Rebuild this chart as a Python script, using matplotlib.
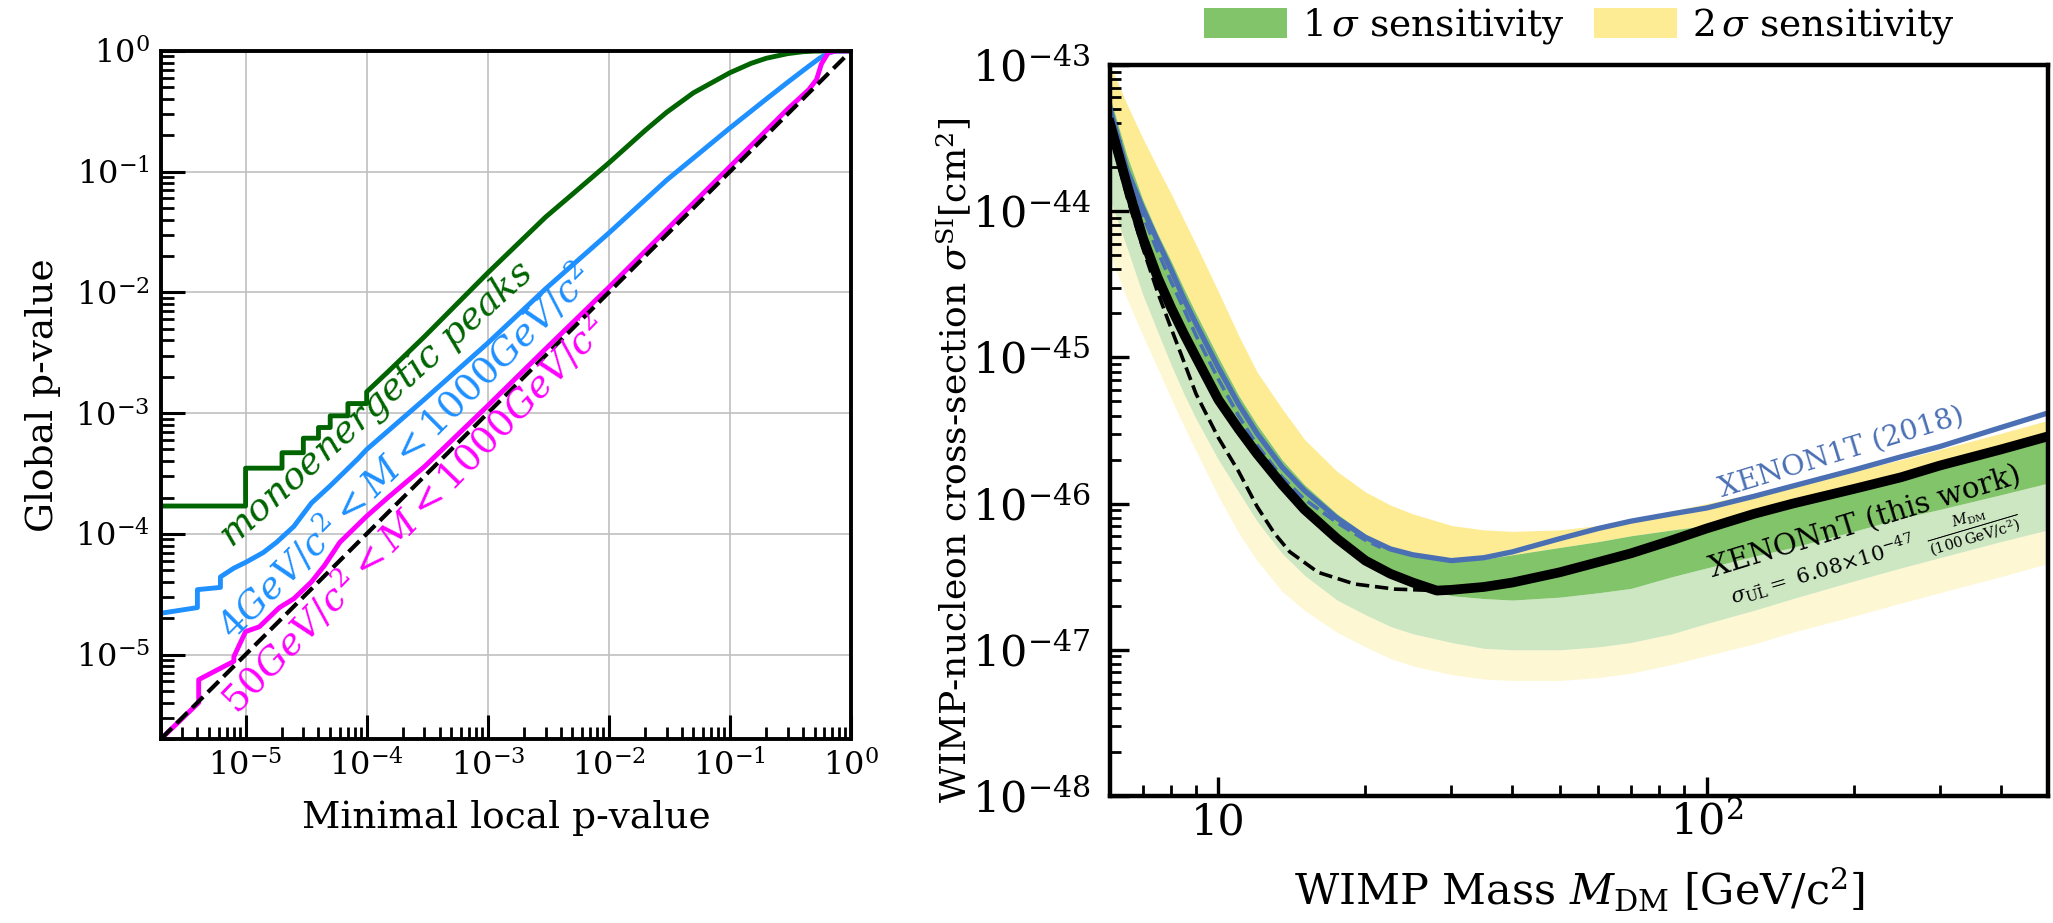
import numpy as np
import matplotlib
matplotlib.use('Agg')
import matplotlib.pyplot as plt
from matplotlib.ticker import LogLocator, NullFormatter, FixedLocator, FixedFormatter
from matplotlib.patches import Patch

plt.rcParams['font.family'] = 'DejaVu Serif'
plt.rcParams['mathtext.fontset'] = 'dejavuserif'

# ---- left panel: global vs local p-value
green_x = [2e-6, 1e-5, 1e-5, 2e-5, 2e-5, 3e-5, 3e-5, 4e-5, 4e-5, 5e-5, 5e-5, 7e-5, 7e-5, 1e-4, 1e-4,
           1.5e-4, 3e-4, 1e-3, 3e-3, 5e-3, 1e-2, 2e-2, 3e-2, 5e-2, 0.1, 0.15, 0.2, 0.3, 0.4, 0.5, 1.0]
green_y = [1.7e-4, 1.7e-4, 3.5e-4, 3.5e-4, 4.7e-4, 4.7e-4, 6.2e-4, 6.2e-4, 7.6e-4, 7.6e-4, 9.5e-4, 9.5e-4,
           1.2e-3, 1.2e-3, 1.5e-3, 2.2e-3, 4.3e-3, 1.45e-2, 4.2e-2, 6.5e-2, 0.118, 0.22, 0.31, 0.45, 0.66,
           0.79, 0.87, 0.95, 0.985, 0.997, 1.0]

blue_x = [2e-6, 4e-6, 4e-6, 6.2e-6, 6.2e-6, 8e-6, 1e-5, 1.4e-5, 1.8e-5, 2.5e-5, 3.5e-5, 5e-5, 8.5e-5,
          1e-4, 3e-4, 1e-3, 3e-3, 1e-2, 3e-2, 0.1, 0.2, 0.3, 0.45, 0.55, 0.65, 0.75, 1.0]
blue_y = [2.2e-5, 2.45e-5, 3.45e-5, 3.6e-5, 4.4e-5, 5.2e-5, 5.8e-5, 7e-5, 8.5e-5, 1.15e-4, 1.8e-4, 2.5e-4,
          4.2e-4, 5e-4, 1.3e-3, 3.8e-3, 1.07e-2, 3.1e-2, 8.5e-2, 0.23, 0.4, 0.55, 0.75, 0.87, 0.96, 1.0, 1.0]

mag_x = [2e-6, 4.1e-6, 4.1e-6, 8e-6, 8e-6, 1e-5, 1.3e-5, 1.9e-5, 2.5e-5, 3.5e-5, 4.5e-5, 6e-5, 1e-4,
         1.5e-4, 3e-4, 1e-3, 3e-3, 1e-2, 3e-2, 0.1, 0.3, 0.45, 0.52, 0.57, 0.65, 0.75, 1.0]
mag_y = [2e-6, 4e-6, 6.2e-6, 8.8e-6, 9.6e-6, 1.55e-5, 1.7e-5, 2.45e-5, 2.9e-5, 4e-5, 5.5e-5, 8.5e-5, 1.4e-4,
         2e-4, 3.6e-4, 1.15e-3, 3.4e-3, 1.1e-2, 3.3e-2, 0.11, 0.33, 0.48, 0.58, 0.78, 0.97, 1.0, 1.0]

p_ticks = [1e-5, 1e-4, 1e-3, 1e-2, 1e-1, 1.0]

# ---- right panel: WIMP limits (cross-sections stored as log10 of cm^2)
mass = [6, 6.5, 7, 7.5, 8, 8.5, 9, 10, 11, 12, 13.5, 15, 17.5, 20, 22.5, 25, 30, 35, 40, 50, 60, 70, 85,
        100, 125, 150, 200, 250, 300, 400, 500]
band_p2_log = [-43.0, -43.27, -43.5, -43.7, -43.88, -44.06, -44.23, -44.55, -44.85, -45.1, -45.35, -45.56,
               -45.78, -45.92, -46.01, -46.07, -46.15, -46.18, -46.19, -46.18, -46.15, -46.11, -46.05, -46.0,
               -45.93, -45.88, -45.78, -45.7, -45.63, -45.52, -45.43]
band_p1_log = [-43.22, -43.62, -43.92, -44.15, -44.34, -44.53, -44.7, -45.0, -45.26, -45.46, -45.7, -45.87,
               -46.07, -46.21, -46.3, -46.35, -46.39, -46.38, -46.35, -46.3, -46.26, -46.22, -46.18, -46.15,
               -46.07, -46.0, -45.89, -45.8, -45.72, -45.61, -45.52]
band_med_log = [-43.4, -43.82, -44.18, -44.45, -44.66, -44.84, -45.0, -45.29, -45.49, -45.66, -45.87, -46.04,
                -46.24, -46.39, -46.49, -46.56, -46.63, -46.65, -46.66, -46.64, -46.61, -46.58, -46.5, -46.44,
                -46.36, -46.3, -46.19, -46.1, -46.04, -45.94, -45.86]
band_m1_log = [-43.92, -44.25, -44.57, -44.82, -45.05, -45.25, -45.42, -45.7, -45.92, -46.12, -46.34, -46.49,
               -46.66, -46.76, -46.84, -46.89, -46.95, -46.99, -47.0, -47.0, -46.98, -46.95, -46.89, -46.82,
               -46.73, -46.65, -46.53, -46.44, -46.37, -46.26, -46.18]
band_m2_log = [-44.3, -44.6, -44.85, -45.07, -45.28, -45.47, -45.64, -45.95, -46.2, -46.39, -46.6, -46.73,
               -46.88, -46.98, -47.06, -47.11, -47.17, -47.2, -47.21, -47.21, -47.19, -47.16, -47.1, -47.04,
               -46.96, -46.88, -46.77, -46.68, -46.61, -46.5, -46.41]

limit_x = [6, 6.5, 7, 7.5, 8, 8.5, 9, 10, 11, 12, 13.5, 15, 17.5, 20, 22.5, 25, 28, 30, 35, 40, 50, 60, 70,
           85, 100, 125, 150, 200, 250, 300, 400, 500]
limit_log = [-43.4, -43.82, -44.18, -44.45, -44.66, -44.84, -45.0, -45.29, -45.49, -45.66, -45.87, -46.04,
             -46.24, -46.39, -46.48, -46.54, -46.595, -46.59, -46.57, -46.54, -46.47, -46.4, -46.34, -46.25,
             -46.17, -46.07, -46.0, -45.9, -45.82, -45.74, -45.63, -45.54]

unpcl_x = [6, 6.5, 7, 7.5, 8, 8.5, 9, 10, 11, 12, 13, 14, 16, 19, 23, 28]
unpcl_log = [-43.45, -43.9, -44.25, -44.55, -44.8, -45.03, -45.25, -45.55, -45.78, -46.02, -46.2, -46.33,
             -46.47, -46.55, -46.585, -46.595]

x1t_log = [-43.3, -43.72, -43.98, -44.2, -44.4, -44.6, -44.77, -45.07, -45.32, -45.52, -45.75, -45.91,
           -46.1, -46.23, -46.31, -46.35, -46.39, -46.37, -46.33, -46.24, -46.17, -46.12, -46.07, -46.03,
           -45.95, -45.88, -45.77, -45.68, -45.61, -45.48, -45.38]

x1t_dash_x = [6, 6.5, 7, 7.5, 8, 8.5, 9, 10, 11, 12, 13.5, 15, 17.5, 20, 21.5]
x1t_dash_log = [-43.33, -43.75, -44.03, -44.27, -44.48, -44.67, -44.85, -45.15, -45.4, -45.6, -45.82,
                -45.97, -46.13, -46.25, -46.3]

xs_ticks = [1e-48, 1e-47, 1e-46, 1e-45, 1e-44, 1e-43]
mass_ticks = [10, 100]
mass_tick_labels = ['10', r'$10^2$']

c_green = '#82c46a'
c_yellow = '#fdec94'
c_blue = '#4a6fb3'

fig = plt.figure(figsize=(20.53, 9.23), dpi=100)

# ================= left panel
ax1 = fig.add_axes([0.0784, 0.1994, 0.3361, 0.7454])
ax1.set_xscale('log')
ax1.set_yscale('log')
ax1.plot(green_x, green_y, color='darkgreen', lw=3.5)
ax1.plot(blue_x, blue_y, color='dodgerblue', lw=3.5)
ax1.plot(mag_x, mag_y, color='magenta', lw=3.5)
ax1.plot([2e-6, 1], [2e-6, 1], color='black', ls='--', lw=3)
ax1.set_xlim(2e-6, 1)
ax1.set_ylim(2e-6, 1)
ax1.grid(True, which='major', color='#c0c0c0', lw=1.2)
ax1.xaxis.set_major_locator(FixedLocator(p_ticks))
ax1.yaxis.set_major_locator(FixedLocator(p_ticks))
ax1.xaxis.set_minor_locator(LogLocator(base=10, subs=np.arange(2, 10), numticks=20))
ax1.yaxis.set_minor_locator(LogLocator(base=10, subs=np.arange(2, 10), numticks=20))
ax1.xaxis.set_minor_formatter(NullFormatter())
ax1.yaxis.set_minor_formatter(NullFormatter())
ax1.tick_params(which='major', direction='in', length=17, width=2.2, labelsize=23, pad=8)
ax1.tick_params(which='minor', direction='in', length=9, width=2.0)
for s in ax1.spines.values():
    s.set_linewidth(2.8)
ax1.set_xlabel('Minimal local p-value', fontsize=27, labelpad=12)
ax1.set_ylabel('Global p-value', fontsize=27, labelpad=10)

ax1.text(1.2e-4, 1.17e-3, r'$\mathit{monoenergetic\ peaks}$', color='darkgreen', fontsize=27,
         rotation=42, ha='center', va='center', rotation_mode='anchor')
ax1.text(2.1e-4, 4.8e-4, r'$\mathit{4GeV/c^2 < M < 1000GeV/c^2}$', color='dodgerblue', fontsize=27,
         rotation=45, ha='center', va='center', rotation_mode='anchor')
ax1.text(2.5e-4, 1.44e-4, r'$\mathit{50GeV/c^2 < M < 1000GeV/c^2}$', color='magenta', fontsize=27,
         rotation=46, ha='center', va='center', rotation_mode='anchor')

# ================= right panel
ax2 = fig.add_axes([0.5407, 0.1376, 0.4569, 0.792])
ax2.set_xscale('log')
ax2.set_yscale('log')

p2 = 10.0 ** np.array(band_p2_log)
p1 = 10.0 ** np.array(band_p1_log)
med = 10.0 ** np.array(band_med_log)
m1 = 10.0 ** np.array(band_m1_log)
m2 = 10.0 ** np.array(band_m2_log)
ax2.fill_between(mass, p1, p2, color=c_yellow, lw=0)
ax2.fill_between(mass, m2, m1, color=c_yellow, alpha=0.4, lw=0)
ax2.fill_between(mass, med, p1, color=c_green, lw=0)
ax2.fill_between(mass, m1, med, color=c_green, alpha=0.4, lw=0)

ax2.plot(unpcl_x, 10.0 ** np.array(unpcl_log), color='black', ls='--', lw=2.6)
ax2.plot(x1t_dash_x, 10.0 ** np.array(x1t_dash_log), color=c_blue, ls='--', lw=2.6)
ax2.plot(mass, 10.0 ** np.array(x1t_log), color=c_blue, lw=3.8)
ax2.plot(limit_x, 10.0 ** np.array(limit_log), color='black', lw=7)

ax2.set_xlim(6, 500)
ax2.set_ylim(1e-48, 1e-43)
ax2.xaxis.set_major_locator(FixedLocator(mass_ticks))
ax2.xaxis.set_major_formatter(FixedFormatter(mass_tick_labels))
ax2.xaxis.set_minor_locator(LogLocator(base=10, subs=np.arange(2, 10), numticks=20))
ax2.xaxis.set_minor_formatter(NullFormatter())
ax2.yaxis.set_major_locator(FixedLocator(xs_ticks))
ax2.yaxis.set_minor_locator(LogLocator(base=10, subs=np.arange(2, 10), numticks=20))
ax2.yaxis.set_minor_formatter(NullFormatter())
ax2.tick_params(which='major', direction='in', length=14, width=2.4, labelsize=31)
ax2.tick_params(which='minor', direction='in', length=8, width=2.0)
ax2.tick_params(axis='x', which='major', pad=4)
ax2.tick_params(axis='y', which='major', pad=14)
for s in ax2.spines.values():
    s.set_linewidth(3.2)
ax2.set_xlabel(r'WIMP Mass $M_{\mathrm{DM}}$ [GeV/c$^2$]', fontsize=31, labelpad=16)
ax2.set_ylabel(r'WIMP-nucleon cross-section $\sigma^{\mathrm{SI}}[\mathrm{cm}^2]$', fontsize=26, labelpad=8)
ax2.yaxis.set_label_coords(-0.145, 0.46)

ax2.text(189, 2.24e-46, 'XENON1T (2018)', color=c_blue, fontsize=20.5, rotation=17,
         ha='center', va='center', rotation_mode='anchor')
ax2.text(211, 7.4e-47, 'XENONnT (this work)', color='black', fontsize=21, rotation=17,
         ha='center', va='center', rotation_mode='anchor')
ax2.text(221, 4.3e-47,
         r'$\sigma_{\vec{\mathrm{UL}}} = \ 6.08{\times}10^{-47}\ \ \frac{M_{\mathrm{DM}}}{(100\,\mathrm{GeV/c^2})}$',
         color='black', fontsize=15, rotation=16.5, ha='center', va='center', rotation_mode='anchor')

handles = [Patch(facecolor=c_green, edgecolor='none', label=r'$1\,\sigma$ sensitivity'),
           Patch(facecolor=c_yellow, edgecolor='none', label=r'$2\,\sigma$ sensitivity')]
ax2.legend(handles=handles, loc='lower center', bbox_to_anchor=(0.5, 1.0), ncol=2, frameon=False,
           fontsize=27, handlelength=2.2, handleheight=0.85, handletextpad=0.4, columnspacing=0.8,
           borderaxespad=0.1)

fig.savefig('out.png', dpi=100)
